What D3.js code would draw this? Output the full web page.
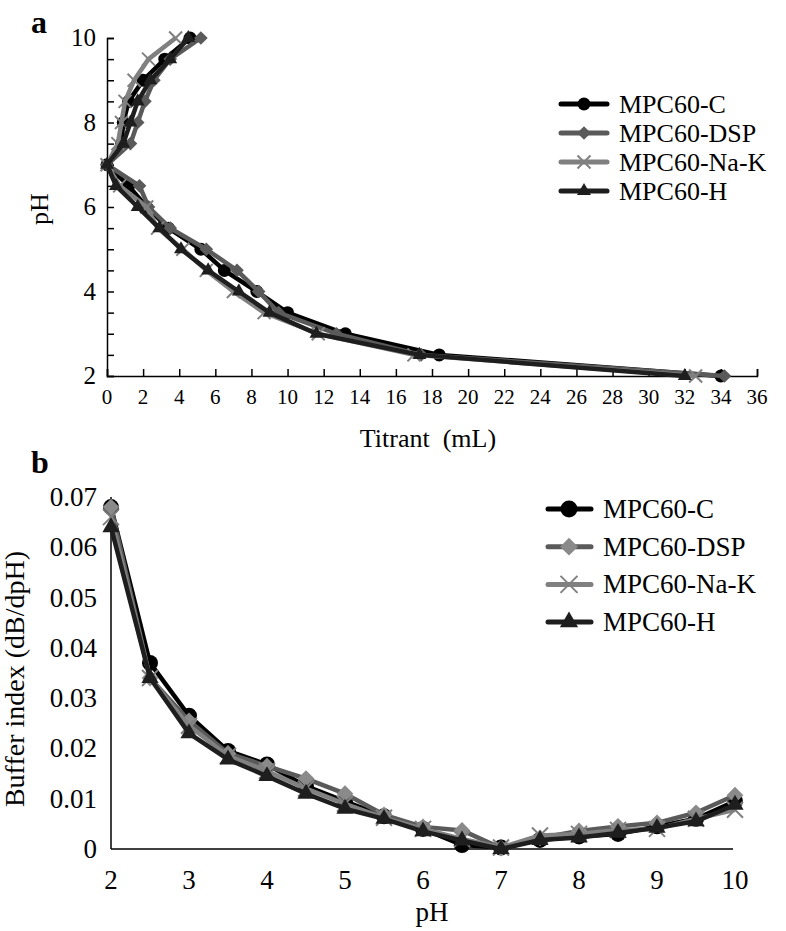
<!DOCTYPE html>
<html><head><meta charset="utf-8">
<script src="https://cdn.jsdelivr.net/npm/d3@7"></script>
<style>body{margin:0;background:#fff}svg{display:block}</style>
</head><body><div id="chart"></div>
<script>
// ---------- Panel a: titration curves ----------
const seriesNames = ["MPC60-C", "MPC60-DSP", "MPC60-Na-K", "MPC60-H"];
const phA = [10, 9.5, 9, 8.5, 8, 7.5, 7, 6.5, 6, 5.5, 5, 4.5, 4, 3.5, 3, 2.5, 2];
const titrantC   = [4.6, 3.2, 2.0, 1.2, 0.9, 0.8, 0, 1.2, 2.2, 3.4, 5.2, 6.5, 8.3, 10.0, 13.2, 18.4, 34.0];
const titrantDSP = [5.2, 3.5, 2.6, 2.1, 1.7, 1.3, 0, 1.8, 2.3, 3.5, 5.5, 7.2, 8.4, 9.5, 12.7, 17.4, 34.2];
const titrantNaK = [3.8, 2.3, 1.5, 1.0, 0.8, 0.6, 0, 0.7, 2.2, 2.8, 4.2, 5.5, 7.0, 8.7, 11.7, 17.0, 32.6];
const titrantH   = [4.5, 3.5, 2.4, 1.7, 1.3, 0.9, 0, 0.5, 1.7, 2.9, 4.1, 5.6, 7.3, 9.0, 11.6, 17.3, 32.0];
const xTicksA = [0,2,4,6,8,10,12,14,16,18,20,22,24,26,28,30,32,34,36];
const yTicksA = [2,4,6,8,10];

// ---------- Panel b: buffer index ----------
const phB = [2, 2.5, 3, 3.5, 4, 4.5, 5, 5.5, 6, 6.5, 7, 7.5, 8, 8.5, 9, 9.5, 10];
const bufC   = [0.068, 0.037, 0.0265, 0.0195, 0.0168, 0.0125, 0.0095, 0.0065, 0.0040, 0.0008, 0.0003, 0.0018, 0.0025, 0.0030, 0.0045, 0.0060, 0.0095];
const bufDSP = [0.068, 0.034, 0.0255, 0.0190, 0.0165, 0.0140, 0.0110, 0.0068, 0.0044, 0.0037, 0.0002, 0.0022, 0.0036, 0.0045, 0.0052, 0.0072, 0.0107];
const bufNaK = [0.066, 0.034, 0.0245, 0.0185, 0.0155, 0.0120, 0.0090, 0.0062, 0.0040, 0.0020, 0.0003, 0.0027, 0.0030, 0.0038, 0.0040, 0.0060, 0.0078];
const bufH   = [0.064, 0.034, 0.0230, 0.0178, 0.0145, 0.0110, 0.0080, 0.0060, 0.0035, 0.0017, 0.0000, 0.0018, 0.0023, 0.0032, 0.0042, 0.0055, 0.0088];
const xTicksB = [2,3,4,5,6,7,8,9,10];
const yTicksB = [0,0.01,0.02,0.03,0.04,0.05,0.06,0.07];

const W = 786, H = 931;
const FONT = "'Liberation Serif', 'Times New Roman', Times, 'DejaVu Serif', serif";
const svg = d3.select("#chart").append("svg").attr("width", W).attr("height", H)
  .attr("font-family", FONT);

const styles = [
  {line:"#000000", fill:"#000000", shape:"circle"},
  {line:"#5a5a5a", fill:"#5a5a5a", fillB:"#8a8a8a", shape:"diamond"},
  {line:"#808080", fill:"#808080", shape:"times"},
  {line:"#1e1e1e", fill:"#1e1e1e", shape:"triangle"}
];

function marker(g, shape, x, y, size, st, fill) {
  if (shape === "circle") {
    g.append("circle").attr("cx", x).attr("cy", y).attr("r", size*0.5).attr("fill", fill);
  } else if (shape === "diamond") {
    g.append("path").attr("d", d3.symbol(d3.symbolSquare, size*size*0.55)())
      .attr("transform", `translate(${x},${y}) rotate(45)`).attr("fill", fill);
  } else if (shape === "times") {
    const s = size*0.5;
    g.append("path").attr("d", `M${x-s},${y-s}L${x+s},${y+s}M${x-s},${y+s}L${x+s},${y-s}`)
      .attr("stroke", fill).attr("stroke-width", 2).attr("fill", "none");
  } else {
    g.append("path").attr("d", d3.symbol(d3.symbolTriangle, size*size*0.5)())
      .attr("transform", `translate(${x},${y})`).attr("fill", fill);
  }
}

function txt(g) { return g.append("text").attr("font-family", FONT).attr("fill", "#000"); }

// ===== Panel a =====
const xA = d3.scaleLinear().domain([0, 36]).range([107, 757]);
const yA = d3.scaleLinear().domain([2, 10]).range([376, 38]);
const gA = svg.append("g");

gA.append("g").attr("transform", `translate(0,${yA(2)})`)
  .call(d3.axisTop(xA).tickValues(xTicksA).tickSize(7).tickFormat(""))
  .call(g => g.select(".domain").attr("stroke-width", 1.5))
  .call(g => g.selectAll(".tick line").attr("stroke-width", 1.5));
gA.append("g").attr("transform", `translate(${xA(0)},0)`)
  .call(d3.axisRight(yA).tickValues(d3.range(2, 10.01, 0.5)).tickSize(7).tickFormat(""))
  .call(g => g.select(".domain").attr("stroke-width", 1.5))
  .call(g => g.selectAll(".tick line").attr("stroke-width", 1.5));
xTicksA.forEach(d => txt(gA).attr("x", xA(d)).attr("y", 404).attr("text-anchor", "middle")
  .attr("font-size", 21).text(d));
yTicksA.forEach(d => txt(gA).attr("x", 96).attr("y", yA(d) + 8).attr("text-anchor", "end")
  .attr("font-size", 25).text(d));
txt(gA).attr("x", 428).attr("y", 447).attr("text-anchor", "middle")
  .attr("font-size", 26).text("Titrant\u00a0\u00a0(mL)");
txt(gA).attr("transform", `translate(48,${yA(5.95)}) rotate(-90)`)
  .attr("text-anchor", "middle").attr("font-size", 26).text("pH");
txt(svg).attr("x", 31).attr("y", 33).attr("font-size", 32).attr("font-weight", "bold").text("a");

const seriesA = [titrantC, titrantDSP, titrantNaK, titrantH];
const lineA = d3.line().x(d => xA(d[0])).y(d => yA(d[1]));
seriesA.forEach((vals, i) => {
  const pts = vals.map((v, j) => [v, phA[j]]);
  const st = styles[i];
  gA.append("path").datum(pts).attr("d", lineA).attr("fill", "none")
    .attr("stroke", st.line).attr("stroke-width", 4.5).attr("stroke-linejoin", "round");
  const mg = gA.append("g");
  pts.forEach(p => marker(mg, st.shape, xA(p[0]), yA(p[1]), 13, st, st.fill));
});

seriesNames.forEach((name, i) => {
  const y = 104 + i * 29, st = styles[i];
  const lg = svg.append("g");
  lg.append("line").attr("x1", 561).attr("x2", 607).attr("y1", y).attr("y2", y)
    .attr("stroke", st.line).attr("stroke-width", 5).attr("stroke-linecap", "round");
  marker(lg, st.shape, 584, y, 13, st, st.fill);
  txt(lg).attr("x", 619).attr("y", y + 9).attr("font-size", 26).text(name);
});

// ===== Panel b =====
const xB = d3.scaleLinear().domain([2, 10]).range([111, 735]);
const yB = d3.scaleLinear().domain([0, 0.07]).range([849, 497]);
const gB = svg.append("g");
gB.append("line").attr("x1", xB(2)).attr("x2", xB(10) - 2).attr("y1", yB(0)).attr("y2", yB(0))
  .attr("stroke", "#000").attr("stroke-width", 1.5);
gB.append("line").attr("x1", xB(2)).attr("x2", xB(2)).attr("y1", yB(0)).attr("y2", yB(0.07))
  .attr("stroke", "#000").attr("stroke-width", 1.5);
xTicksB.forEach(d => txt(gB).attr("x", xB(d)).attr("y", 889).attr("text-anchor", "middle")
  .attr("font-size", 27).text(d));
yTicksB.forEach(d => txt(gB).attr("x", 97).attr("y", yB(d) + 9).attr("text-anchor", "end")
  .attr("font-size", 27).text(d === 0 ? "0" : d3.format(".2f")(d)));
txt(gB).attr("x", 432).attr("y", 921).attr("text-anchor", "middle")
  .attr("font-size", 27).text("pH");
txt(gB).attr("transform", `translate(24,${yB(0.0338)}) rotate(-90)`)
  .attr("text-anchor", "middle").attr("font-size", 28).text("Buffer index (dB/dpH)");
txt(svg).attr("x", 31).attr("y", 473).attr("font-size", 32).attr("font-weight", "bold").text("b");

const seriesB = [bufC, bufDSP, bufNaK, bufH];
const lineB = d3.line().x(d => xB(d[0])).y(d => yB(d[1]));
seriesB.forEach((vals, i) => {
  const pts = vals.map((v, j) => [phB[j], v]);
  const st = styles[i];
  gB.append("path").datum(pts).attr("d", lineB).attr("fill", "none")
    .attr("stroke", st.line).attr("stroke-width", 4.5).attr("stroke-linejoin", "round");
  const mg = gB.append("g");
  pts.forEach(p => marker(mg, st.shape, xB(p[0]), yB(p[1]), 16, st, st.fillB || st.fill));
});

seriesNames.forEach((name, i) => {
  const y = 509 + i * 37.7, st = styles[i];
  const lg = svg.append("g");
  lg.append("line").attr("x1", 548).attr("x2", 591).attr("y1", y).attr("y2", y)
    .attr("stroke", st.line).attr("stroke-width", 5).attr("stroke-linecap", "round");
  marker(lg, st.shape, 569, y, 17, st, st.fillB || st.fill);
  txt(lg).attr("x", 603).attr("y", y + 9).attr("font-size", 27).text(name);
});
</script></body></html>
